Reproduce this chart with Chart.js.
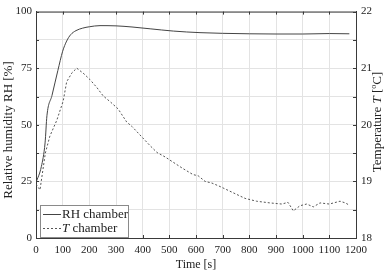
<!DOCTYPE html>
<html>
<head>
<meta charset="utf-8">
<script src="https://cdn.jsdelivr.net/npm/chart.js@4"></script>
<style>
  html, body { margin: 0; padding: 0; background: #fff; }
  #wrap { width: 387px; height: 272px; }
</style>
</head>
<body>
<div id="wrap"><canvas id="chamberChart" width="387" height="272"></canvas></div>
<script>
// time [s] and relative humidity [%]
const rhTime = [0, 20, 34, 41, 60, 82, 100, 115, 130, 150, 175, 200, 240, 300, 360, 428, 515, 615, 700, 800, 900, 1000, 1100, 1175];
const rhValues = [24.5, 31.5, 42, 54, 63, 74, 82.5, 87, 89.8, 91.6, 92.7, 93.3, 93.8, 93.7, 93.2, 92.4, 91.4, 90.7, 90.4, 90.2, 90.1, 90.1, 90.3, 90.2];

// time [s] and chamber temperature [degC]
const tTime = [0, 15, 35, 52, 78, 102, 115, 135, 153, 180, 202, 228, 252, 280, 308, 340, 360, 390, 428, 454, 485, 514, 550, 589, 608, 634, 660, 690, 739, 784, 827, 877, 922, 945, 965, 990, 1015, 1040, 1065, 1100, 1140, 1160, 1175];
const tValues = [18.95, 18.85, 19.5, 19.8, 20.08, 20.42, 20.76, 20.92, 21.0, 20.9, 20.8, 20.66, 20.51, 20.4, 20.28, 20.05, 19.97, 19.82, 19.63, 19.51, 19.43, 19.34, 19.23, 19.12, 19.1, 19.0, 18.97, 18.91, 18.8, 18.7, 18.65, 18.62, 18.6, 18.63, 18.48, 18.57, 18.6, 18.55, 18.62, 18.6, 18.65, 18.62, 18.58];

const xTicks = [0, 100, 200, 300, 400, 500, 600, 700, 800, 900, 1000, 1100, 1200];
const rhTickLabels = [0, 25, 50, 75, 100];
const tTickLabels = [18, 19, 20, 21, 22];

const seriesNames = ['RH chamber', 'T chamber'];

const FONT = '"Liberation Serif", "DejaVu Serif", serif';
const AXIS = '#3a3a3a';
const GRID = '#e3e3e3';

// draws text pieces rotated -90deg, centred on (cx, cy)
function drawVerticalText(ctx, parts, cx, cy) {
    ctx.save();
    ctx.translate(cx, cy);
    ctx.rotate(-Math.PI / 2);
    ctx.fillStyle = '#222';
    ctx.textBaseline = 'middle';
    let total = 0;
    parts.forEach(p => { ctx.font = p.font; total += ctx.measureText(p.text).width; });
    let x = -total / 2;
    parts.forEach(p => {
        ctx.font = p.font;
        ctx.fillText(p.text, x, p.dy || 0);
        x += ctx.measureText(p.text).width;
    });
    ctx.restore();
}

// inward tick marks, top border, legend and axis titles (italic T)
const decorPlugin = {
    id: 'decor',
    afterDraw(chart) {
        const ctx = chart.ctx;
        const area = chart.chartArea;
        const x = chart.scales.x, y = chart.scales.y, y2 = chart.scales.y2;
        ctx.save();
        ctx.strokeStyle = AXIS;
        ctx.lineWidth = 1;
        ctx.beginPath();
        ctx.moveTo(area.left, area.top + 0.5);
        ctx.lineTo(area.right, area.top + 0.5);
        x.ticks.forEach(t => {
            const px = Math.round(x.getPixelForValue(t.value)) + 0.5;
            ctx.moveTo(px, area.bottom); ctx.lineTo(px, area.bottom - 3);
            ctx.moveTo(px, area.top); ctx.lineTo(px, area.top + 3);
        });
        y.ticks.forEach(t => {
            const py = Math.round(y.getPixelForValue(t.value)) + 0.5;
            ctx.moveTo(area.left, py); ctx.lineTo(area.left + 3, py);
        });
        y2.ticks.forEach(t => {
            const py = Math.round(y2.getPixelForValue(t.value)) + 0.5;
            ctx.moveTo(area.right, py); ctx.lineTo(area.right - 3, py);
        });
        ctx.stroke();

        // legend box
        const lx = area.left + 4, ly = area.bottom - 33, lw = 88, lh = 32;
        ctx.fillStyle = '#fff';
        ctx.fillRect(lx, ly, lw, lh);
        ctx.strokeStyle = '#8a8a8a';
        ctx.strokeRect(lx + 0.5, ly + 0.5, lw, lh);

        const ds = chart.data.datasets;
        const rows = [ly + 9, ly + 23];
        rows.forEach((ry, i) => {
            ctx.strokeStyle = ds[i].borderColor;
            ctx.setLineDash(ds[i].borderDash || []);
            ctx.beginPath();
            ctx.moveTo(lx + 3, ry + 0.5);
            ctx.lineTo(lx + 21, ry + 0.5);
            ctx.stroke();
        });
        ctx.setLineDash([]);
        ctx.fillStyle = '#222';
        ctx.textBaseline = 'middle';
        const tx = lx + 22;
        ctx.font = '13px ' + FONT;
        ctx.fillText(seriesNames[0], tx, rows[0] + 1);
        ctx.font = 'italic 13px ' + FONT;
        ctx.fillText('T', tx, rows[1] + 1);
        const tw = ctx.measureText('T ').width;
        ctx.font = '13px ' + FONT;
        ctx.fillText(seriesNames[1].slice(2), tx + tw, rows[1] + 1);
        ctx.restore();

        // axis titles
        drawVerticalText(ctx, [{ text: 'Relative humidity RH [%]', font: '13px ' + FONT }], 9, 130);
        drawVerticalText(ctx, [
            { text: 'Temperature ', font: '13px ' + FONT },
            { text: 'T', font: 'italic 13px ' + FONT },
            { text: ' [', font: '13px ' + FONT },
            { text: 'o', font: '8px ' + FONT, dy: -4 },
            { text: 'C]', font: '13px ' + FONT }
        ], 378, 122);
    }
};

const ctx = document.getElementById('chamberChart').getContext('2d');
const chart = new Chart(ctx, {
    type: 'line',
    data: {
        datasets: [
            {
                label: seriesNames[0],
                data: rhTime.map((t, i) => ({ x: t, y: rhValues[i] })),
                yAxisID: 'y',
                borderColor: '#444',
                borderWidth: 1,
                pointRadius: 0,
                cubicInterpolationMode: 'monotone'
            },
            {
                label: seriesNames[1],
                data: tTime.map((t, i) => ({ x: t, y: tValues[i] })),
                yAxisID: 'y2',
                borderColor: '#555',
                borderWidth: 1,
                borderDash: [2, 2],
                pointRadius: 0,
                tension: 0
            }
        ]
    },
    options: {
        responsive: false,
        animation: false,
        layout: { padding: { top: 5, left: 0, right: 0, bottom: 0 } },
        plugins: {
            legend: { display: false },
            tooltip: { enabled: false }
        },
        scales: {
            x: {
                type: 'linear',
                min: xTicks[0],
                max: xTicks[xTicks.length - 1],
                afterBuildTicks: s => { s.ticks = xTicks.map(v => ({ value: v })); },
                afterFit: s => { s.height = 34; },
                grid: { color: GRID, drawTicks: false },
                border: { color: AXIS },
                ticks: {
                    color: '#222',
                    padding: 6,
                    autoSkip: false,
                    maxRotation: 0,
                    font: { family: FONT, size: 11 },
                    callback: v => String(v)
                },
                title: { display: true, text: 'Time [s]', color: '#222', padding: 0, font: { family: FONT, size: 12 } }
            },
            y: {
                position: 'left',
                min: 0,
                max: 100,
                ticks: {
                    stepSize: 12.5,
                    color: '#222',
                    padding: 4,
                    font: { family: FONT, size: 11 },
                    callback: v => rhTickLabels.includes(v) ? v : ''
                },
                afterFit: s => { s.width = 36; },
                grid: { color: GRID, drawTicks: false },
                border: { color: AXIS }
            },
            y2: {
                position: 'right',
                min: 18,
                max: 22,
                ticks: {
                    stepSize: 0.5,
                    color: '#222',
                    padding: 5,
                    font: { family: FONT, size: 11 },
                    callback: v => tTickLabels.includes(v) ? v : ''
                },
                afterFit: s => { s.width = 31; },
                grid: { drawOnChartArea: false, drawTicks: false },
                border: { color: AXIS }
            }
        }
    },
    plugins: [decorPlugin]
});
</script>
</body>
</html>
